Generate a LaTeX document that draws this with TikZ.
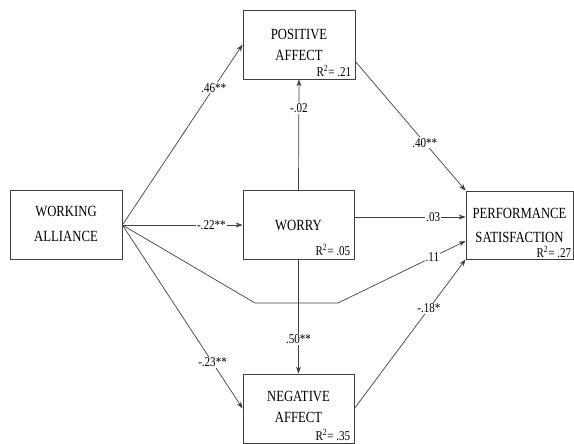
\documentclass[tikz,border=0pt]{standalone}
\usepackage{fontspec}
\setmainfont{Liberation Serif}[FakeStretch=0.82]
\usetikzlibrary{arrows.meta}
\begin{document}
\begin{tikzpicture}[x=1pt,y=-1pt,>={Stealth[length=7pt,width=5pt]},
  box/.style={draw=black!75, line width=0.8pt, minimum width=112pt, minimum height=69pt, align=center, font=\fontsize{15.5}{21}\selectfont},
  rsq/.style={anchor=base east, inner sep=0pt, font=\fontsize{13.5}{16}\selectfont},
  coef/.style={fill=white, inner sep=1pt, font=\fontsize{13.5}{16}\selectfont},
  link/.style={->, draw=black!75, line width=0.7pt}]
\useasboundingbox (0,0) rectangle (574,444);

\node[box, font=\fontsize{15.5}{25}\selectfont, text depth=3pt] (wa) at (66,225) {WORKING\\ALLIANCE};
\node[box] (pa) at (299,44.5) {POSITIVE\\AFFECT};
\node[box, minimum width=111pt] (wo) at (298.5,225) {WORRY};
\node[box, minimum width=111pt, text depth=4pt] (na) at (298.5,408.5) {NEGATIVE\\AFFECT};
\node[box, minimum width=107pt, minimum height=68pt, font=\fontsize{15.5}{24}\selectfont] (ps) at (519.5,225) {PERFORMANCE\\SATISFACTION};

\node[rsq] (pa-r) at ([xshift=-4pt,yshift=3pt]pa.south east) {R\textsuperscript{2}= .21};
\node[rsq] (wo-r) at ([xshift=-4pt,yshift=4pt]wo.south east) {R\textsuperscript{2}= .05};
\node[rsq] (na-r) at ([xshift=-4pt,yshift=3pt]na.south east) {R\textsuperscript{2}= .35};
\node[rsq] (ps-r) at ([xshift=-2pt,yshift=1.5pt]ps.south east) {R\textsuperscript{2}= .27};

\coordinate (k1) at (255,303);
\coordinate (k2) at (338,303);

\draw[link] (wa.east) -- node[coef, pos=.76] (l46) {.46**} (pa.west);
\draw[link] (wa.east) -- node[coef, pos=.74] (l22) {-.22**} (wo.west);
\draw[link] (wa.east) -- node[coef, pos=.75] (l23) {-.23**} (na.west);
\draw[link] (wa.east) -- (k1) -- (k2) -- node[coef, pos=.74] (l11) {.11} ([yshift=-16pt]ps.west);
\draw[link] (wo.north) -- node[coef, pos=.74] (l02) {-.02} (pa.south);
\draw[link] (wo.south) -- node[coef, pos=.70] (l50) {.50**} (na.north);
\draw[link] ([yshift=8pt]wo.east) -- node[coef, pos=.71] (l03) {.03} ([yshift=8pt]ps.west);
\draw[link] ([yshift=-17pt]pa.east) -- node[coef, pos=.63] (l40) {.40**} (ps.north west);
\draw[link] (na.east) -- node[coef, pos=.67] (l18) {-.18*} (ps.south west);
\end{tikzpicture}
\end{document}
